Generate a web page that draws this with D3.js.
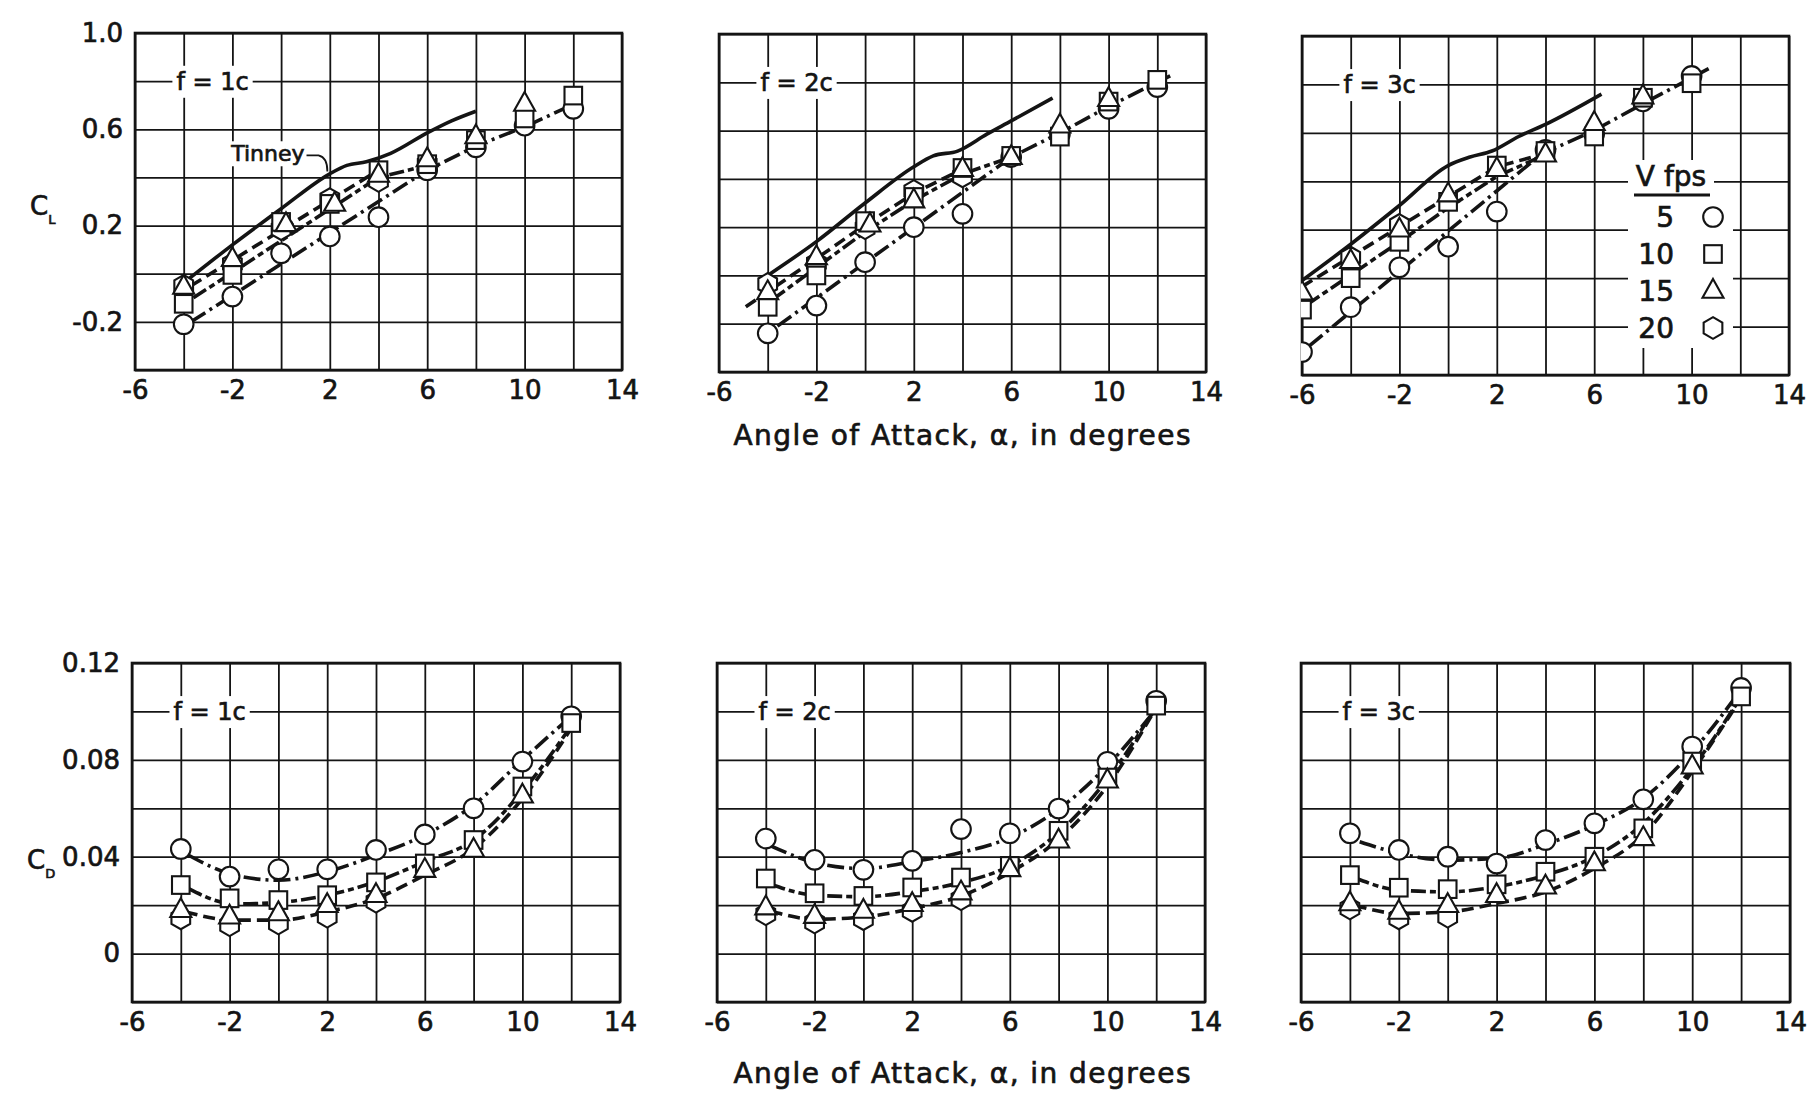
<!DOCTYPE html>
<html><head><meta charset="utf-8">
<script src="https://cdn.jsdelivr.net/npm/d3@7"></script>
<style>
body{margin:0;background:#fff}
svg{display:block}
text{font-family:"DejaVu Sans",sans-serif;fill:#141414;stroke:#141414;stroke-width:0.7px}
</style>
</head><body>
<svg id="c" width="1813" height="1097"></svg>
<script>
// ---------- axis ticks & labels ----------
const alphaTicks = [-6,-4,-2,0,2,4,6,8,10,12,14];
const alphaLabels = [-6,-2,2,6,10,14];
const clTicks = [-0.4,-0.2,0,0.2,0.4,0.6,0.8,1.0];
const clLabels = [1.0,0.6,0.2,-0.2];
const cdTicks = [-0.02,0,0.02,0.04,0.06,0.08,0.10,0.12];
const cdLabels = [0.12,0.08,0.04,0];
const speeds = [5,10,15,20];
const panelNames = ["f = 1c","f = 2c","f = 3c"];
const xTitle = "Angle of Attack, α, in degrees";

// ---------- C_L data (alpha, CL) ----------
const cl1_v5  = [[-4,-0.21],[-2,-0.095],[0,0.085],[2,0.155],[4,0.235],[6,0.43],[8,0.525],[10,0.615],[12,0.685]];
const cl1_v10 = [[-4,-0.125],[-2,-0.005],[0,0.215],[2,0.29],[4,0.43],[6,0.455],[8,0.555],[10,0.645],[12,0.74]];
const cl1_v15 = [[-4,-0.055],[-2,0.06],[0.2,0.205],[2.2,0.29],[4,0.41],[6,0.475],[8,0.57],[10,0.705]];
const cl1_v20 = [[-4,-0.05],[-2,0.04],[0,0.185],[2,0.31],[4,0.385],[6,0.455]];
const cl1_fit5  = [[-3.7,-0.2],[6,0.43],[8,0.53],[10,0.61],[11.6,0.685]];
const cl1_fit10 = [[-3.6,-0.1],[4,0.4],[6,0.45]];
const cl1_fit15 = [[-3.7,-0.05],[4,0.43]];
const tinney1 = [[-3.9,-0.03],[-2,0.12],[0,0.27],[2,0.415],[2.7,0.45],[3.5,0.465],[4.5,0.5],[6,0.585],[7,0.635],[8,0.675]];

const cl2_v5  = [[-4,-0.24],[-2,-0.125],[0,0.055],[2,0.2],[4,0.255],[6,0.49],[8,0.585],[10,0.69],[12,0.78]];
const cl2_v10 = [[-4,-0.13],[-2,0.0],[0,0.225],[2,0.325],[4,0.445],[6,0.495],[8,0.575],[10,0.72],[12,0.81]];
const cl2_v15 = [[-4,-0.07],[-2,0.075],[0.2,0.21],[2,0.31],[4,0.44],[6,0.49],[8,0.62],[10,0.73]];
const cl2_v20 = [[-4,-0.035],[-2,0.05],[0,0.195],[2,0.35],[4,0.41]];
const cl2_fit5  = [[-3.6,-0.21],[6,0.49],[8,0.59],[10,0.70],[12.7,0.835]];
const cl2_fit10 = [[-3.8,-0.1],[0,0.18],[2,0.31],[4,0.42],[6,0.49]];
const cl2_fit15 = [[-4.9,-0.13],[-2,0.07],[0,0.21],[2,0.34],[4,0.44]];
const tinney2 = [[-4,0.0],[-2,0.14],[0,0.3],[2,0.45],[2.8,0.495],[3.8,0.515],[5,0.585],[6,0.64],[7.7,0.735]];

const cl3_v5  = [[-6,-0.305],[-4,-0.12],[-2,0.045],[0,0.13],[2,0.275],[4,0.53],[6,0.595],[8,0.73],[10,0.835]];
const cl3_v10 = [[-6,-0.13],[-4,0.0],[-2,0.15],[0,0.315],[2,0.465],[4,0.525],[6,0.585],[8,0.745],[10,0.805]];
const cl3_v15 = [[-6,-0.06],[-4,0.07],[-2,0.2],[0,0.345],[2,0.45],[4,0.51],[6,0.64],[8,0.75]];
const cl3_v20 = [[-4,0.085],[-2,0.22]];
const cl3_fit5  = [[-5.7,-0.28],[3.8,0.51],[6,0.61],[8,0.72],[10.7,0.865]];
const cl3_fit10 = [[-5.8,-0.11],[-2,0.15],[0,0.29],[2,0.42],[4,0.51]];
const cl3_fit15 = [[-6,-0.035],[2,0.46],[4,0.515]];
const tinney3 = [[-6,-0.01],[-4,0.14],[-2,0.3],[0,0.465],[0.9,0.5],[1.8,0.525],[2.9,0.585],[4,0.635],[6.3,0.76]];

// ---------- C_D data (alpha, CD) ----------
const cd1_v5  = [[-4,0.0432],[-2,0.0318],[0,0.0348],[2,0.0348],[4,0.0428],[6,0.0492],[8,0.060],[10,0.0793],[12,0.098]];
const cd1_v10 = [[-4,0.0283],[-2,0.0228],[0,0.0221],[2,0.0241],[4,0.0294],[6,0.0372],[8,0.0469],[10,0.069],[12,0.0952]];
const cd1_v15 = [[-4,0.0179],[-2,0.0152],[0,0.0166],[2,0.020],[4,0.0241],[6,0.0345],[8,0.0428],[10,0.0652]];
const cd1_v20 = [[-4,0.0145],[-2,0.0117],[0,0.0124],[2,0.0152],[4,0.0214]];
const cd1_fit5  = [[-3.7,0.0407],[-1.8,0.0324],[0,0.0303],[2,0.0338],[4,0.0407],[6,0.049],[8,0.0614],[10,0.080],[12,0.098]];
const cd1_fit10 = [[-3.7,0.0269],[-1.8,0.0205],[0,0.0211],[2,0.0241],[4,0.0297],[6,0.038],[8,0.0469],[10,0.067],[12,0.094]];
const cd1_fit15 = [[-3.8,0.0172],[-1.8,0.0138],[0,0.0138],[2,0.0172],[4,0.0228],[6,0.0324],[8,0.0434],[10,0.064],[12,0.093]];

const cd2_v5  = [[-4,0.0475],[-2,0.0387],[0,0.0346],[2,0.0383],[4,0.0514],[6,0.0497],[8,0.0599],[10,0.0792],[12,0.1044]];
const cd2_v10 = [[-4,0.031],[-2,0.0249],[0,0.0238],[2,0.0273],[4,0.0314],[6,0.0362],[8,0.0507],[10,0.0727],[12,0.1024]];
const cd2_v15 = [[-4,0.019],[-2,0.0155],[0,0.0176],[2,0.0204],[4,0.0252],[6,0.0348],[8,0.0466],[10,0.0714]];
const cd2_v20 = [[-4,0.0162],[-2,0.0128],[0,0.0142],[2,0.0176],[4,0.0224]];
const cd2_fit5  = [[-3.8,0.0445],[-2,0.0376],[0,0.0351],[2,0.0379],[4,0.0417],[6,0.0479],[8,0.0596],[10,0.0776],[12,0.101]];
const cd2_fit10 = [[-3.8,0.0286],[-2,0.0241],[0,0.0235],[2,0.0256],[4,0.0293],[6,0.0362],[8,0.050],[10,0.072],[12,0.102]];
const cd2_fit15 = [[-3.8,0.0176],[-2,0.0142],[0,0.0151],[2,0.0186],[4,0.0238],[6,0.0335],[8,0.0472],[10,0.0693],[12,0.1017]];

const cd3_v5  = [[-4,0.0497],[-2,0.0428],[0,0.040],[2,0.0372],[4,0.0469],[6,0.0538],[8,0.0637],[10,0.0855],[12,0.1097]];
const cd3_v10 = [[-4,0.0324],[-2,0.0272],[0,0.0266],[2,0.0286],[4,0.0338],[6,0.040],[8,0.0517],[10,0.0793],[12,0.1062]];
const cd3_v15 = [[-4,0.0207],[-2,0.0172],[0,0.020],[2,0.0241],[4,0.0276],[6,0.0372],[8,0.0476],[10,0.0772]];
const cd3_v20 = [[-4,0.0186],[-2,0.0145],[0,0.0152]];
const cd3_fit5  = [[-3.6,0.0462],[-2,0.0414],[0,0.0386],[2,0.0393],[4,0.0451],[6,0.0531],[8,0.0641],[10,0.0834],[12,0.109]];
const cd3_fit10 = [[-3.8,0.0313],[-2,0.0262],[0,0.0255],[2,0.0276],[4,0.0324],[6,0.040],[8,0.0538],[10,0.0766],[12,0.106]];
const cd3_fit15 = [[-3.8,0.020],[-2,0.0166],[0,0.0172],[2,0.0207],[4,0.0255],[6,0.0352],[8,0.049],[10,0.0752],[12,0.1055]];

// ---------- layout (pixels) ----------
const layout = [
  {x:135, y:33,  w:487, h:337},
  {x:719, y:34,  w:487, h:338},
  {x:1302,y:36,  w:487, h:339},
  {x:132, y:663, w:488, h:339},
  {x:717, y:663, w:488, h:339},
  {x:1301,y:663, w:489, h:339}
];
const panels = [
  {kind:"cl", markers:[cl1_v5,cl1_v10,cl1_v15,cl1_v20], fits:[cl1_fit5,cl1_fit10,cl1_fit15], tinney:tinney1},
  {kind:"cl", markers:[cl2_v5,cl2_v10,cl2_v15,cl2_v20], fits:[cl2_fit5,cl2_fit10,cl2_fit15], tinney:tinney2},
  {kind:"cl", markers:[cl3_v5,cl3_v10,cl3_v15,cl3_v20], fits:[cl3_fit5,cl3_fit10,cl3_fit15], tinney:tinney3},
  {kind:"cd", markers:[cd1_v5,cd1_v10,cd1_v15,cd1_v20], fits:[cd1_fit5,cd1_fit10,cd1_fit15]},
  {kind:"cd", markers:[cd2_v5,cd2_v10,cd2_v15,cd2_v20], fits:[cd2_fit5,cd2_fit10,cd2_fit15]},
  {kind:"cd", markers:[cd3_v5,cd3_v10,cd3_v15,cd3_v20], fits:[cd3_fit5,cd3_fit10,cd3_fit15]}
];
const fitDash = ["17,5,3,5","15,4,6,4","12,6"];
const INK = "#141414";
const svg = d3.select("#c");

function drawMarker(sel, k){
  const common = s => s.attr("fill","#fff").attr("stroke",INK).attr("stroke-width",2.1);
  if(k===0){ common(sel.append("circle").attr("r",9.8)); }
  else if(k===1){ common(sel.append("rect").attr("x",-8.8).attr("y",-8.8).attr("width",17.6).attr("height",17.6)); }
  else if(k===2){ common(sel.append("path").attr("d","M0,-12L10.5,6.8L-10.5,6.8Z")); }
  else {
    const r=10.8, pts=d3.range(6).map(i=>{const a=(-90+60*i)*Math.PI/180;return [r*Math.cos(a),r*Math.sin(a)];});
    common(sel.append("path").attr("d","M"+pts.map(p=>p.join(",")).join("L")+"Z"));
  }
}

panels.forEach((p,i)=>{
  const L = layout[i], col = i%3;
  const g = svg.append("g").attr("transform",`translate(${L.x},${L.y})`);
  const x = d3.scaleLinear().domain([-6,14]).range([0,L.w]);
  const y = d3.scaleLinear().domain(p.kind==="cl"?[-0.4,1.0]:[-0.02,0.12]).range([L.h,0]);
  const yTicks = p.kind==="cl"?clTicks:cdTicks;

  // grid lines
  g.append("g").attr("transform",`translate(0,${L.h})`)
    .call(d3.axisBottom(x).tickValues(alphaTicks).tickSize(-L.h).tickFormat(""))
    .call(a=>{a.select(".domain").remove(); a.selectAll("line").attr("stroke",INK).attr("stroke-width",1.8);});
  g.append("g")
    .call(d3.axisLeft(y).tickValues(yTicks).tickSize(-L.w).tickFormat(""))
    .call(a=>{a.select(".domain").remove(); a.selectAll("line").attr("stroke",INK).attr("stroke-width",1.8);});

  // panel label with white backing
  const labBg = g.append("rect").attr("fill","#fff");
  const lab = g.append("text").attr("x",x(-4.3)).attr("y",y(p.kind==="cl"?0.8:0.10)).attr("dy","0.36em")
    .attr("font-size",24).text(panelNames[col]);
  const bb = lab.node().getBBox();
  labBg.attr("x",bb.x-4).attr("y",bb.y-2).attr("width",bb.width+8).attr("height",bb.height+4);

  // frame
  g.append("rect").attr("width",L.w).attr("height",L.h).attr("fill","none").attr("stroke",INK).attr("stroke-width",2.6);

  // x tick labels
  g.append("g").attr("transform",`translate(0,${L.h})`)
    .call(d3.axisBottom(x).tickValues(alphaLabels).tickSize(0).tickPadding(11).tickFormat(d=>String(d)))
    .call(a=>{a.select(".domain").remove(); a.attr("font-size",26).attr("font-family",null);});
  // y tick labels (left column)
  if(col===0){
    const fmt = p.kind==="cl" ? (d=>d.toFixed(1)) : (d=>d===0?"0":d.toFixed(2));
    g.append("g")
      .call(d3.axisLeft(y).tickValues(p.kind==="cl"?clLabels:cdLabels).tickSize(0).tickPadding(12).tickFormat(fmt))
      .call(a=>{a.select(".domain").remove(); a.attr("font-size",26).attr("font-family",null);});
    // axis symbol
    const sub = p.kind==="cl"?"L":"D";
    const by = p.kind==="cl"? y(0.2)-11 : y(0.04)+12;
    const t = g.append("text").attr("x",-105).attr("y",by).attr("font-size",26);
    t.append("tspan").text("C");
    t.append("tspan").attr("font-size",13).attr("dy",9).attr("dx",0).text(sub);
  }

  // clip
  const cid = "clip"+i;
  g.append("clipPath").attr("id",cid).append("rect").attr("x",-1).attr("y",-1).attr("width",L.w+2).attr("height",L.h+2);
  const data = g.append("g").attr("clip-path",`url(#${cid})`);

  const lineLin = d3.line().x(d=>x(d[0])).y(d=>y(d[1]));
  const lineSmooth = d3.line().x(d=>x(d[0])).y(d=>y(d[1])).curve(d3.curveMonotoneX);
  const lf = p.kind==="cl" ? lineLin : lineSmooth;
  p.fits.forEach((f,k)=>{
    data.append("path").attr("d",lf(f)).attr("fill","none").attr("stroke",INK)
      .attr("stroke-width",3.6).attr("stroke-dasharray",fitDash[k]);
  });
  if(p.tinney){
    data.append("path").attr("d",lineSmooth(p.tinney)).attr("fill","none").attr("stroke",INK).attr("stroke-width",3.6);
  }
  // markers: hexagon, circle, square, triangle order
  [3,0,1,2].forEach(k=>{
    p.markers[k].forEach(d=>{
      const m = data.append("g").attr("transform",`translate(${x(d[0])},${y(d[1])})`);
      drawMarker(m,k);
    });
  });

  // Tinney label (first panel)
  if(i===0){
    const tBg = g.append("rect").attr("fill","#fff");
    const tt = g.append("text").attr("x",x(-2.05)).attr("y",y(0.5)).attr("dy","0.36em").attr("font-size",22).text("Tinney");
    const tb = tt.node().getBBox();
    tBg.attr("x",tb.x-2).attr("y",tb.y).attr("width",tb.width+4).attr("height",tb.height);
    const ex = tb.x+tb.width+2, ey = y(0.5)+2;
    const tx = x(1.9), ty = y(0.425);
    g.append("path").attr("d",`M${ex},${ey} L${ex+12},${ey} Q${ex+21},${ey+2} ${tx},${ty}`)
      .attr("fill","none").attr("stroke",INK).attr("stroke-width",1.8);
  }

  // legend (third panel, top row)
  if(i===2){
    const lg = g.append("g");
    lg.append("rect").attr("x",326).attr("y",124).attr("width",86).attr("height",40).attr("fill","#fff");
    lg.append("rect").attr("x",326).attr("y",162).attr("width",105).attr("height",150).attr("fill","#fff");
    lg.append("text").attr("x",369).attr("y",150).attr("text-anchor","middle").attr("font-size",28).text("V fps");
    lg.append("line").attr("x1",332).attr("x2",408).attr("y1",159).attr("y2",159).attr("stroke",INK).attr("stroke-width",2.8);
    speeds.forEach((s,k)=>{
      const ry = 181 + k*37;
      lg.append("text").attr("x",372).attr("y",ry).attr("dy","0.36em").attr("text-anchor","end").attr("font-size",28).text(s);
      drawMarker(lg.append("g").attr("transform",`translate(411,${ry})`),k);
    });
  }
});

// x-axis titles
[445,1083].forEach(by=>{
  svg.append("text").attr("x",962).attr("y",by).attr("text-anchor","middle").attr("font-size",28)
    .attr("stroke-width",1).attr("textLength",457).attr("lengthAdjust","spacing").text(xTitle);
});
</script>
</body></html>
